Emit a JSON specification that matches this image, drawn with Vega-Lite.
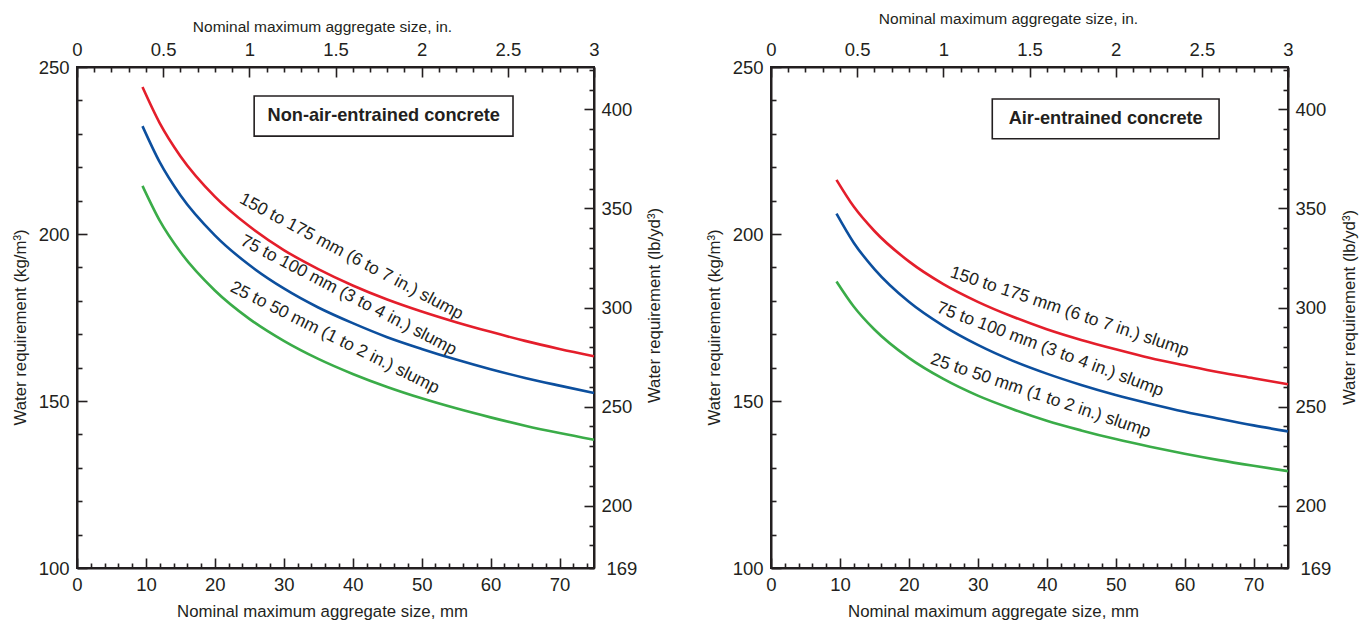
{
  "$schema": "https://vega.github.io/schema/vega-lite/v6.json",
  "padding": {"left": 11, "top": 10, "right": 5, "bottom": 5},
  "background": "white",
  "config": {
    "font": "Liberation Sans",
    "view": {"stroke": "#231f20", "strokeWidth": 2},
    "axis": {
      "grid": false,
      "domainColor": "#231f20",
      "domainWidth": 2,
      "tickColor": "#231f20",
      "tickWidth": 1.6,
      "labelColor": "#231f20",
      "titleColor": "#231f20",
      "labelFontSize": 18.5,
      "titleFontSize": 16.8,
      "titleFontWeight": "normal",
      "labelOverlap": false,
      "labelBound": false,
      "labelFlush": false
    }
  },
  "datasets": {
    "curves": [
      {"panel": "L", "series": "hi", "mm": 9.5, "kg": 244.0},
      {"panel": "L", "series": "hi", "mm": 12, "kg": 233.2},
      {"panel": "L", "series": "hi", "mm": 15, "kg": 223.3},
      {"panel": "L", "series": "hi", "mm": 20, "kg": 211.2},
      {"panel": "L", "series": "hi", "mm": 25, "kg": 202.3},
      {"panel": "L", "series": "hi", "mm": 30, "kg": 195.2},
      {"panel": "L", "series": "hi", "mm": 35, "kg": 189.5},
      {"panel": "L", "series": "hi", "mm": 40, "kg": 184.6},
      {"panel": "L", "series": "hi", "mm": 45, "kg": 180.4},
      {"panel": "L", "series": "hi", "mm": 50, "kg": 176.8},
      {"panel": "L", "series": "hi", "mm": 55, "kg": 173.6},
      {"panel": "L", "series": "hi", "mm": 60, "kg": 170.7},
      {"panel": "L", "series": "hi", "mm": 65, "kg": 168.0},
      {"panel": "L", "series": "hi", "mm": 70, "kg": 165.6},
      {"panel": "L", "series": "hi", "mm": 75, "kg": 163.4},
      {"panel": "L", "series": "mid", "mm": 9.5, "kg": 232.3},
      {"panel": "L", "series": "mid", "mm": 12, "kg": 221.5},
      {"panel": "L", "series": "mid", "mm": 15, "kg": 211.6},
      {"panel": "L", "series": "mid", "mm": 20, "kg": 199.6},
      {"panel": "L", "series": "mid", "mm": 25, "kg": 190.7},
      {"panel": "L", "series": "mid", "mm": 30, "kg": 183.7},
      {"panel": "L", "series": "mid", "mm": 35, "kg": 178.0},
      {"panel": "L", "series": "mid", "mm": 40, "kg": 173.3},
      {"panel": "L", "series": "mid", "mm": 45, "kg": 169.1},
      {"panel": "L", "series": "mid", "mm": 50, "kg": 165.6},
      {"panel": "L", "series": "mid", "mm": 55, "kg": 162.4},
      {"panel": "L", "series": "mid", "mm": 60, "kg": 159.5},
      {"panel": "L", "series": "mid", "mm": 65, "kg": 156.9},
      {"panel": "L", "series": "mid", "mm": 70, "kg": 154.6},
      {"panel": "L", "series": "mid", "mm": 75, "kg": 152.4},
      {"panel": "L", "series": "lo", "mm": 9.5, "kg": 214.4},
      {"panel": "L", "series": "lo", "mm": 12, "kg": 204.0},
      {"panel": "L", "series": "lo", "mm": 15, "kg": 194.6},
      {"panel": "L", "series": "lo", "mm": 20, "kg": 183.1},
      {"panel": "L", "series": "lo", "mm": 25, "kg": 174.6},
      {"panel": "L", "series": "lo", "mm": 30, "kg": 168.0},
      {"panel": "L", "series": "lo", "mm": 35, "kg": 162.6},
      {"panel": "L", "series": "lo", "mm": 40, "kg": 158.1},
      {"panel": "L", "series": "lo", "mm": 45, "kg": 154.2},
      {"panel": "L", "series": "lo", "mm": 50, "kg": 150.8},
      {"panel": "L", "series": "lo", "mm": 55, "kg": 147.8},
      {"panel": "L", "series": "lo", "mm": 60, "kg": 145.1},
      {"panel": "L", "series": "lo", "mm": 65, "kg": 142.6},
      {"panel": "L", "series": "lo", "mm": 70, "kg": 140.4},
      {"panel": "L", "series": "lo", "mm": 75, "kg": 138.4},
      {"panel": "R", "series": "hi", "mm": 9.5, "kg": 216.2},
      {"panel": "R", "series": "hi", "mm": 12, "kg": 208.2},
      {"panel": "R", "series": "hi", "mm": 15, "kg": 200.9},
      {"panel": "R", "series": "hi", "mm": 20, "kg": 191.8},
      {"panel": "R", "series": "hi", "mm": 25, "kg": 185.0},
      {"panel": "R", "series": "hi", "mm": 30, "kg": 179.7},
      {"panel": "R", "series": "hi", "mm": 35, "kg": 175.3},
      {"panel": "R", "series": "hi", "mm": 40, "kg": 171.5},
      {"panel": "R", "series": "hi", "mm": 45, "kg": 168.3},
      {"panel": "R", "series": "hi", "mm": 50, "kg": 165.5},
      {"panel": "R", "series": "hi", "mm": 55, "kg": 162.9},
      {"panel": "R", "series": "hi", "mm": 60, "kg": 160.7},
      {"panel": "R", "series": "hi", "mm": 65, "kg": 158.6},
      {"panel": "R", "series": "hi", "mm": 70, "kg": 156.8},
      {"panel": "R", "series": "hi", "mm": 75, "kg": 155.0},
      {"panel": "R", "series": "mid", "mm": 9.5, "kg": 206.1},
      {"panel": "R", "series": "mid", "mm": 12, "kg": 197.4},
      {"panel": "R", "series": "mid", "mm": 15, "kg": 189.5},
      {"panel": "R", "series": "mid", "mm": 20, "kg": 179.7},
      {"panel": "R", "series": "mid", "mm": 25, "kg": 172.5},
      {"panel": "R", "series": "mid", "mm": 30, "kg": 166.8},
      {"panel": "R", "series": "mid", "mm": 35, "kg": 162.1},
      {"panel": "R", "series": "mid", "mm": 40, "kg": 158.2},
      {"panel": "R", "series": "mid", "mm": 45, "kg": 154.8},
      {"panel": "R", "series": "mid", "mm": 50, "kg": 151.8},
      {"panel": "R", "series": "mid", "mm": 55, "kg": 149.2},
      {"panel": "R", "series": "mid", "mm": 60, "kg": 146.8},
      {"panel": "R", "series": "mid", "mm": 65, "kg": 144.7},
      {"panel": "R", "series": "mid", "mm": 70, "kg": 142.7},
      {"panel": "R", "series": "mid", "mm": 75, "kg": 140.9},
      {"panel": "R", "series": "lo", "mm": 9.5, "kg": 185.8},
      {"panel": "R", "series": "lo", "mm": 12, "kg": 178.3},
      {"panel": "R", "series": "lo", "mm": 15, "kg": 171.4},
      {"panel": "R", "series": "lo", "mm": 20, "kg": 162.9},
      {"panel": "R", "series": "lo", "mm": 25, "kg": 156.6},
      {"panel": "R", "series": "lo", "mm": 30, "kg": 151.6},
      {"panel": "R", "series": "lo", "mm": 35, "kg": 147.6},
      {"panel": "R", "series": "lo", "mm": 40, "kg": 144.1},
      {"panel": "R", "series": "lo", "mm": 45, "kg": 141.2},
      {"panel": "R", "series": "lo", "mm": 50, "kg": 138.6},
      {"panel": "R", "series": "lo", "mm": 55, "kg": 136.3},
      {"panel": "R", "series": "lo", "mm": 60, "kg": 134.2},
      {"panel": "R", "series": "lo", "mm": 65, "kg": 132.3},
      {"panel": "R", "series": "lo", "mm": 70, "kg": 130.6},
      {"panel": "R", "series": "lo", "mm": 75, "kg": 129.0}
    ],
    "labels": [
      {"panel": "L", "series": "hi", "mm": 39.8, "kg": 193.2, "text": "150 to 175 mm (6 to 7 in.) slump"},
      {"panel": "L", "series": "mid", "mm": 39.4, "kg": 181.6, "text": "75 to 100 mm (3 to 4 in.) slump"},
      {"panel": "L", "series": "lo", "mm": 37.4, "kg": 168.9, "text": "25 to 50 mm (1 to 2 in.) slump"},
      {"panel": "R", "series": "hi", "mm": 43.3, "kg": 176.7, "text": "150 to 175 mm (6 to 7 in.) slump"},
      {"panel": "R", "series": "mid", "mm": 40.5, "kg": 165.4, "text": "75 to 100 mm (3 to 4 in.) slump"},
      {"panel": "R", "series": "lo", "mm": 39.1, "kg": 151.6, "text": "25 to 50 mm (1 to 2 in.) slump"}
    ],
    "boxes": [
      {"panel": "L", "mm": 25.7, "mm2": 63.25, "kg": 241.3, "kg2": 229.3, "mid": 44.5, "kgmid": 235.3, "text": "Non-air-entrained concrete"},
      {"panel": "R", "mm": 32.1, "mm2": 65.0, "kg": 240.4, "kg2": 228.5, "mid": 48.55, "kgmid": 234.45, "text": "Air-entrained concrete"}
    ],
    "secondary": [
      {"inch": 0, "lb": 168.56},
      {"inch": 3, "lb": 421.4}
    ]
  },
  "spacing": 40,
  "hconcat": [
    {
      "width": 517,
      "height": 501,
      "layer": [
        {
          "encoding": {
            "x": {"field": "mm", "type": "quantitative",
              "scale": {"domain": [0, 75], "nice": false, "zero": false},
              "axis": {"orient": "bottom", "title": "Nominal maximum aggregate size, mm",
                "values": [0,2,4,6,8,10,12,14,16,18,20,22,24,26,28,30,32,34,36,38,40,42,44,46,48,50,52,54,56,58,60,62,64,66,68,70,72,74],
                "labelExpr": "datum.value % 10 === 0 ? datum.label : ''",
                "tickSize": {"condition": {"test": "datum.value % 10 === 0", "value": -10}, "value": -5},
                "labelPadding": 17, "titlePadding": 5, "titleX": 245}},
            "y": {"field": "kg", "type": "quantitative",
              "scale": {"domain": [100, 250], "nice": false, "zero": false},
              "axis": {"orient": "left", "title": "Water requirement (kg/m³)",
                "values": [100,110,120,130,140,150,160,170,180,190,200,210,220,230,240,250],
                "labelExpr": "datum.value % 50 === 0 ? datum.label : ''",
                "tickSize": {"condition": {"test": "datum.value % 50 === 0", "value": -10}, "value": -5},
                "labelPadding": 18, "titlePadding": 9, "titleY": 260}}
          },
          "layer": [
            {
              "data": {"name": "curves"},
              "transform": [{"filter": "datum.panel === 'L'"}],
              "mark": {"type": "line", "strokeWidth": 2.6, "interpolate": "monotone"},
              "encoding": {
                "color": {"field": "series", "type": "nominal", "legend": null,
                  "scale": {"domain": ["hi", "mid", "lo"], "range": ["#e41e2b", "#0c4f9e", "#3aac48"]}},
                "detail": {"field": "series"}
              }
            },
            {
              "data": {"name": "labels"},
              "transform": [{"filter": "datum.panel === 'L' && datum.series === 'hi'"}],
              "mark": {"type": "text", "angle": 28, "fontSize": 17.4, "color": "#231f20", "align": "center", "baseline": "middle"},
              "encoding": {"text": {"field": "text"}}
            },
            {
              "data": {"name": "labels"},
              "transform": [{"filter": "datum.panel === 'L' && datum.series === 'mid'"}],
              "mark": {"type": "text", "angle": 27.5, "fontSize": 17.4, "color": "#231f20", "align": "center", "baseline": "middle"},
              "encoding": {"text": {"field": "text"}}
            },
            {
              "data": {"name": "labels"},
              "transform": [{"filter": "datum.panel === 'L' && datum.series === 'lo'"}],
              "mark": {"type": "text", "angle": 26.5, "fontSize": 17.4, "color": "#231f20", "align": "center", "baseline": "middle"},
              "encoding": {"text": {"field": "text"}}
            },
            {
              "data": {"name": "boxes"},
              "transform": [{"filter": "datum.panel === 'L'"}],
              "mark": {"type": "rect", "fill": "white", "stroke": "#231f20", "strokeWidth": 1.6},
              "encoding": {"x2": {"field": "mm2"}, "y2": {"field": "kg2"}}
            },
            {
              "data": {"name": "boxes"},
              "transform": [{"filter": "datum.panel === 'L'"}],
              "mark": {"type": "text", "fontSize": 18.2, "fontWeight": "bold", "color": "#231f20", "align": "center", "baseline": "middle"},
              "encoding": {"x": {"field": "mid", "type": "quantitative"}, "y": {"field": "kgmid", "type": "quantitative"}, "text": {"field": "text"}}
            }
          ]
        },
        {
          "data": {"name": "secondary"},
          "mark": {"type": "point", "opacity": 0},
          "encoding": {
            "x": {"field": "inch", "type": "quantitative",
              "scale": {"domain": [0, 3], "nice": false, "zero": false},
              "axis": {"orient": "top", "title": "Nominal maximum aggregate size, in.", "format": "~g",
                "titleFontSize": 15.5,
                "values": [0,0.1,0.2,0.3,0.4,0.5,0.6,0.7,0.8,0.9,1,1.1,1.2,1.3,1.4,1.5,1.6,1.7,1.8,1.9,2,2.1,2.2,2.3,2.4,2.5,2.6,2.7,2.8,2.9,3],
                "labelExpr": "abs(datum.value*2 - round(datum.value*2)) < 0.001 ? datum.label : ''",
                "tickSize": {"condition": {"test": "abs(datum.value*2 - round(datum.value*2)) < 0.001", "value": -10}, "value": -5},
                "labelPadding": 18, "titlePadding": 1, "titleX": 245}},
            "y": {"field": "lb", "type": "quantitative",
              "scale": {"domain": [168.56, 421.4], "nice": false, "zero": false},
              "axis": {"orient": "right", "title": "Water requirement (lb/yd³)",
                "titleAngle": 270, "titleBaseline": "top",
                "values": [168.56,180,190,200,210,220,230,240,250,260,270,280,290,300,310,320,330,340,350,360,370,380,390,400,410,420],
                "labelExpr": "datum.value < 169 ? '169' : (datum.value % 50 === 0 ? datum.label : '')",
                "tickSize": {"condition": {"test": "datum.value % 50 === 0", "value": -10}, "value": -5},
                "labelPadding": 17, "titlePadding": 10, "titleY": 238}}
          }
        }
      ],
      "resolve": {"scale": {"x": "independent", "y": "independent"}}
    },
    {
      "width": 517,
      "height": 501,
      "layer": [
        {
          "encoding": {
            "x": {"field": "mm", "type": "quantitative",
              "scale": {"domain": [0, 75], "nice": false, "zero": false},
              "axis": {"orient": "bottom", "title": "Nominal maximum aggregate size, mm",
                "values": [0,2,4,6,8,10,12,14,16,18,20,22,24,26,28,30,32,34,36,38,40,42,44,46,48,50,52,54,56,58,60,62,64,66,68,70,72,74],
                "labelExpr": "datum.value % 10 === 0 ? datum.label : ''",
                "tickSize": {"condition": {"test": "datum.value % 10 === 0", "value": -10}, "value": -5},
                "labelPadding": 17, "titlePadding": 5, "titleX": 222}},
            "y": {"field": "kg", "type": "quantitative",
              "scale": {"domain": [100, 250], "nice": false, "zero": false},
              "axis": {"orient": "left", "title": "Water requirement (kg/m³)",
                "values": [100,110,120,130,140,150,160,170,180,190,200,210,220,230,240,250],
                "labelExpr": "datum.value % 50 === 0 ? datum.label : ''",
                "tickSize": {"condition": {"test": "datum.value % 50 === 0", "value": -10}, "value": -5},
                "labelPadding": 18, "titlePadding": 9, "titleY": 260}}
          },
          "layer": [
            {
              "data": {"name": "curves"},
              "transform": [{"filter": "datum.panel === 'R'"}],
              "mark": {"type": "line", "strokeWidth": 2.6, "interpolate": "monotone"},
              "encoding": {
                "color": {"field": "series", "type": "nominal", "legend": null,
                  "scale": {"domain": ["hi", "mid", "lo"], "range": ["#e41e2b", "#0c4f9e", "#3aac48"]}},
                "detail": {"field": "series"}
              }
            },
            {
              "data": {"name": "labels"},
              "transform": [{"filter": "datum.panel === 'R' && datum.series === 'hi'"}],
              "mark": {"type": "text", "angle": 18.5, "fontSize": 17.4, "color": "#231f20", "align": "center", "baseline": "middle"},
              "encoding": {"text": {"field": "text"}}
            },
            {
              "data": {"name": "labels"},
              "transform": [{"filter": "datum.panel === 'R' && datum.series === 'mid'"}],
              "mark": {"type": "text", "angle": 20.5, "fontSize": 17.4, "color": "#231f20", "align": "center", "baseline": "middle"},
              "encoding": {"text": {"field": "text"}}
            },
            {
              "data": {"name": "labels"},
              "transform": [{"filter": "datum.panel === 'R' && datum.series === 'lo'"}],
              "mark": {"type": "text", "angle": 18.6, "fontSize": 17.4, "color": "#231f20", "align": "center", "baseline": "middle"},
              "encoding": {"text": {"field": "text"}}
            },
            {
              "data": {"name": "boxes"},
              "transform": [{"filter": "datum.panel === 'R'"}],
              "mark": {"type": "rect", "fill": "white", "stroke": "#231f20", "strokeWidth": 1.6},
              "encoding": {"x2": {"field": "mm2"}, "y2": {"field": "kg2"}}
            },
            {
              "data": {"name": "boxes"},
              "transform": [{"filter": "datum.panel === 'R'"}],
              "mark": {"type": "text", "fontSize": 18.2, "fontWeight": "bold", "color": "#231f20", "align": "center", "baseline": "middle"},
              "encoding": {"x": {"field": "mid", "type": "quantitative"}, "y": {"field": "kgmid", "type": "quantitative"}, "text": {"field": "text"}}
            }
          ]
        },
        {
          "data": {"name": "secondary"},
          "mark": {"type": "point", "opacity": 0},
          "encoding": {
            "x": {"field": "inch", "type": "quantitative",
              "scale": {"domain": [0, 3], "nice": false, "zero": false},
              "axis": {"orient": "top", "title": "Nominal maximum aggregate size, in.", "format": "~g",
                "titleFontSize": 15.5,
                "values": [0,0.1,0.2,0.3,0.4,0.5,0.6,0.7,0.8,0.9,1,1.1,1.2,1.3,1.4,1.5,1.6,1.7,1.8,1.9,2,2.1,2.2,2.3,2.4,2.5,2.6,2.7,2.8,2.9,3],
                "labelExpr": "abs(datum.value*2 - round(datum.value*2)) < 0.001 ? datum.label : ''",
                "tickSize": {"condition": {"test": "abs(datum.value*2 - round(datum.value*2)) < 0.001", "value": -10}, "value": -5},
                "labelPadding": 18, "titlePadding": 9, "titleX": 237}},
            "y": {"field": "lb", "type": "quantitative",
              "scale": {"domain": [168.56, 421.4], "nice": false, "zero": false},
              "axis": {"orient": "right", "title": "Water requirement (lb/yd³)",
                "titleAngle": 270, "titleBaseline": "top",
                "values": [168.56,180,190,200,210,220,230,240,250,260,270,280,290,300,310,320,330,340,350,360,370,380,390,400,410,420],
                "labelExpr": "datum.value < 169 ? '169' : (datum.value % 50 === 0 ? datum.label : '')",
                "tickSize": {"condition": {"test": "datum.value % 50 === 0", "value": -10}, "value": -5},
                "labelPadding": 17, "titlePadding": 11, "titleY": 240}}
          }
        }
      ],
      "resolve": {"scale": {"x": "independent", "y": "independent"}}
    }
  ]
}
